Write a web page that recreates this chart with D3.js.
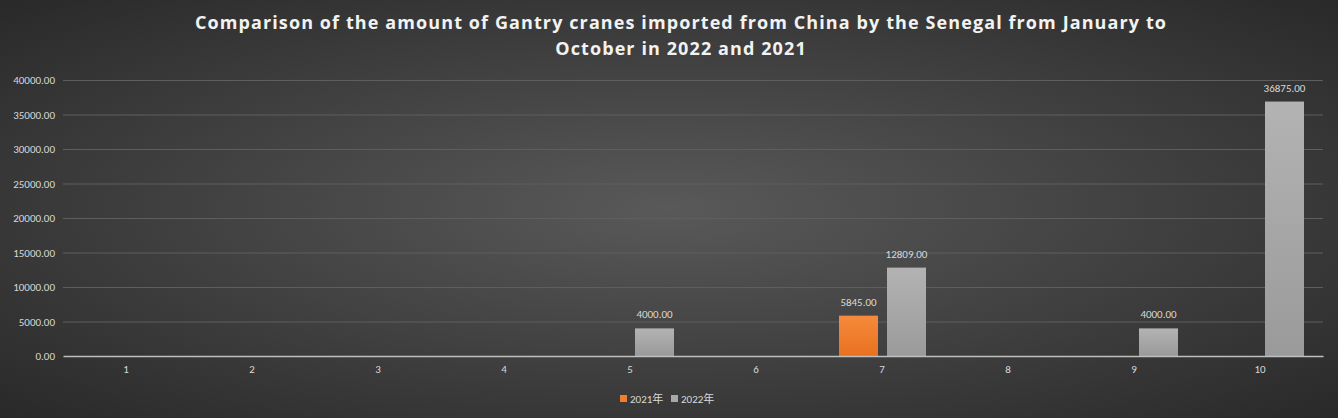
<!DOCTYPE html>
<html><head><meta charset="utf-8">
<script src="https://cdn.jsdelivr.net/npm/d3@7/dist/d3.min.js"></script>
<style>body{margin:0;padding:0;overflow:hidden}svg{display:block}</style>
</head><body>
<svg id="c" width="1338" height="418"></svg>
<script>
const categories = ["1","2","3","4","5","6","7","8","9","10"];
const seriesNames = ["2021年","2022年"];
const values2021 = [0,0,0,0,0,0,5845,0,0,0];
const values2022 = [0,0,0,0,4000,0,12809,0,4000,36875];
const yTicks = [0,5000,10000,15000,20000,25000,30000,35000,40000];
const titleLines = ["Comparison of the amount of Gantry cranes imported from China by the Senegal from January to","October in 2022 and 2021"];

const W=1338,H=418;
const svg=d3.select("#c");
const defs=svg.append("defs");
const bg=defs.append("radialGradient").attr("id","bg").attr("cx","50%").attr("cy","50%").attr("r","75%")
  .attr("gradientUnits","objectBoundingBox");
bg.append("stop").attr("offset","0%").attr("stop-color","#595959");
bg.append("stop").attr("offset","100%").attr("stop-color","#262626");
const go=defs.append("linearGradient").attr("id","go").attr("x1",0).attr("y1",0).attr("x2",0).attr("y2",1);
go.append("stop").attr("offset","0%").attr("stop-color","#f68a3c");
go.append("stop").attr("offset","100%").attr("stop-color","#e8711f");
const gg=defs.append("linearGradient").attr("id","gg").attr("x1",0).attr("y1",0).attr("x2",0).attr("y2",1);
gg.append("stop").attr("offset","0%").attr("stop-color","#b3b3b3");
gg.append("stop").attr("offset","100%").attr("stop-color","#9a9a9a");
const fills=["url(#go)","url(#gg)"];
const legendColors=["#f07f2d","#a8a8a8"];

svg.append("rect").attr("width",W).attr("height",H).attr("fill","url(#bg)");

const x=d3.scaleBand().domain(categories).range([63,1323]);
const x1=d3.scaleBand().domain(seriesNames).range([20,107]).paddingInner(0.1875);
const y=d3.scaleLinear().domain([0,40000]).range([356,80]);

// gridlines
svg.append("g").selectAll("line").data(yTicks.filter(t=>t>0)).join("line")
  .attr("x1",63).attr("x2",1323).attr("y1",d=>y(d)+0.5).attr("y2",d=>y(d)+0.5)
  .attr("stroke","#5e5e5e").attr("stroke-width",1);

// y axis labels
const yAxis=d3.axisLeft(y).tickValues(yTicks).tickFormat(d=>d3.format(".2f")(d)).tickSize(0).tickPadding(8);
const ya=svg.append("g").attr("transform","translate(63,0)").call(yAxis);
ya.select(".domain").remove();
ya.selectAll("text").attr("fill","#d9d9d9").style("font-family","Calibri, Carlito, 'Liberation Sans', Arial, sans-serif").style("font-size","11px");

const series=[values2021,values2022];
const g=svg.append("g");
series.forEach((vals,si)=>{
  g.append("g").selectAll("rect").data(categories.map((c,i)=>({c,v:vals[i]}))).join("rect")
    .attr("x",d=>x(d.c)+x1(seriesNames[si])).attr("width",x1.bandwidth())
    .attr("y",d=>y(d.v)).attr("height",d=>y(0)-y(d.v)).attr("fill",fills[si]);
  g.append("g").selectAll("text").data(categories.map((c,i)=>({c,v:vals[i]})).filter(d=>d.v>0)).join("text")
    .attr("x",d=>x(d.c)+x1(seriesNames[si])+x1.bandwidth()/2).attr("y",d=>y(d.v)-10)
    .attr("text-anchor","middle").attr("fill","#d9d9d9")
    .style("font-family","Calibri, Carlito, 'Liberation Sans', Arial, sans-serif").style("font-size","11px")
    .text(d=>d3.format(".2f")(d.v));
});

// x axis
const xAxis=d3.axisBottom(x).tickSize(0).tickPadding(9);
const xa=svg.append("g").attr("transform","translate(0,356)").call(xAxis);
xa.select(".domain").attr("stroke","#bfbfbf").attr("stroke-width",1.3);
xa.selectAll("text").attr("fill","#d9d9d9").style("font-family","Calibri, Carlito, 'Liberation Sans', Arial, sans-serif").style("font-size","11px");

// title
const t=svg.append("text").attr("text-anchor","middle").attr("fill","#f2f2f2")
  .style("font-family","'Open Sans', 'Noto Sans', sans-serif").style("font-weight","bold").style("font-size","18px").style("letter-spacing","1.1px");
titleLines.forEach((l,i)=>t.append("tspan").attr("x",681).attr("y",29+i*26).text(l));

// legend
const lg=svg.append("g").style("font-family","Calibri, Carlito, 'Liberation Sans', 'Noto Sans CJK SC', sans-serif").style("font-size","11px");
const lx=[620,671];
seriesNames.forEach((n,i)=>{
  lg.append("rect").attr("x",lx[i]).attr("y",395).attr("width",7).attr("height",7).attr("fill",legendColors[i]);
  lg.append("text").attr("x",lx[i]+10).attr("y",403).attr("fill","#d9d9d9").text(n);
});
</script>
</body></html>
